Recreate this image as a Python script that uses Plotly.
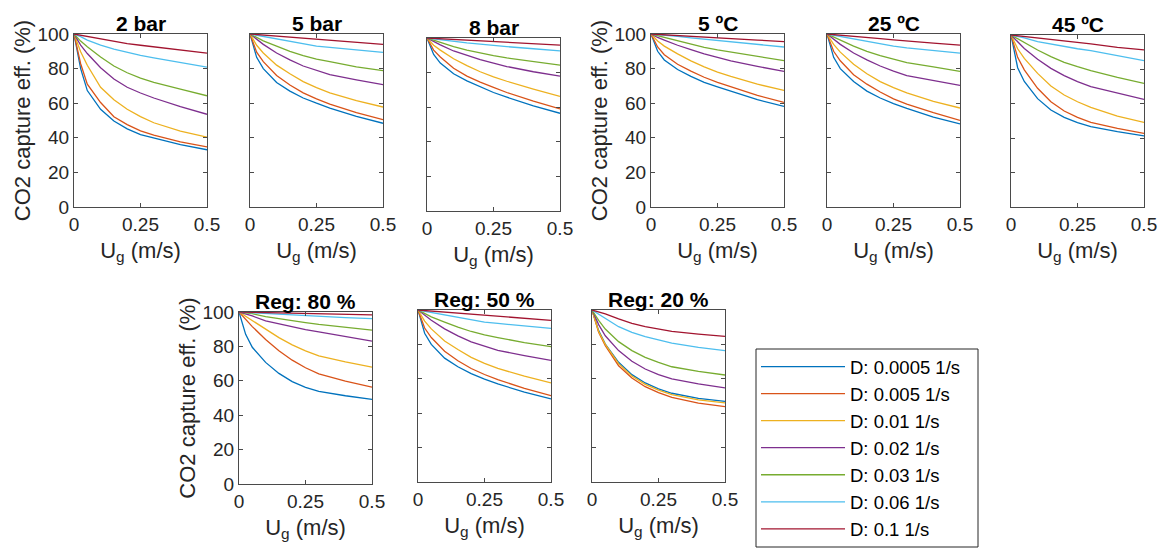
import plotly.graph_objects as go

W, H = 1161, 548

# ---------------- data ----------------
ug = [0, 0.025, 0.05, 0.1, 0.15, 0.2, 0.25, 0.3, 0.4, 0.5]

d_labels = ["D: 0.0005 1/s", "D: 0.005 1/s", "D: 0.01 1/s", "D: 0.02 1/s",
            "D: 0.03 1/s", "D: 0.06 1/s", "D: 0.1 1/s"]
colors = ["#0072BD", "#D95319", "#EDB120", "#7E2F8E", "#77AC30", "#4DBEEE", "#A2142F"]

# capture efficiency (%) per panel, one list per D value (same order as d_labels)
eff_2bar = [
    [100, 80.0, 67.3, 56.5, 49.7, 45.2, 41.9, 39.8, 36.0, 33.1],
    [100, 82.8, 71.0, 60.4, 52.2, 47.6, 44.0, 41.5, 37.6, 34.7],
    [100, 89.7, 81.9, 69.2, 62.0, 56.5, 52.2, 48.7, 43.9, 40.4],
    [100, 93.6, 88.7, 80.5, 74.0, 69.2, 65.9, 63.0, 58.0, 53.6],
    [100, 95.9, 92.6, 86.7, 81.5, 77.6, 74.5, 72.1, 68.2, 64.3],
    [100, 98.5, 96.5, 93.6, 91.2, 89.3, 87.7, 86.2, 83.4, 80.9],
    [100, 99.3, 98.5, 96.9, 95.7, 94.5, 93.5, 92.6, 90.6, 89.0],
]
eff_5bar = [
    [100, 86.5, 80.0, 72.0, 67.0, 63.0, 60.0, 57.2, 52.4, 48.4],
    [100, 89.5, 84.0, 76.0, 70.5, 66.0, 62.5, 59.5, 54.5, 50.5],
    [100, 93.5, 89.0, 82.0, 77.0, 72.5, 69.0, 66.0, 61.5, 57.8],
    [100, 96.8, 94.0, 89.0, 85.0, 81.5, 79.0, 76.5, 73.5, 70.7],
    [100, 98.0, 96.0, 93.0, 90.0, 87.5, 85.5, 84.0, 81.0, 78.8],
    [100, 99.3, 98.5, 97.0, 95.5, 94.5, 93.0, 92.3, 90.8, 89.4],
    [100, 99.7, 99.5, 98.5, 98.0, 97.5, 97.0, 96.3, 95.0, 94.0],
]
eff_8bar = [
    [100, 90.5, 85.5, 79.3, 75.2, 72.0, 68.5, 65.8, 60.7, 56.5],
    [100, 93.0, 89.0, 82.5, 78.0, 74.5, 71.5, 68.5, 63.5, 59.0],
    [100, 95.8, 93.0, 88.0, 84.0, 80.5, 77.5, 75.0, 70.5, 66.3],
    [100, 97.8, 96.0, 92.5, 90.0, 87.5, 85.5, 83.5, 80.5, 78.0],
    [100, 98.7, 97.5, 95.0, 93.0, 91.3, 89.8, 88.5, 86.3, 84.3],
    [100, 99.5, 99.0, 98.0, 97.2, 96.5, 95.7, 95.0, 93.8, 92.6],
    [100, 99.8, 99.6, 99.0, 98.6, 98.2, 97.8, 97.5, 96.7, 95.9],
]
eff_5C = [
    [100, 90.0, 85.0, 79.5, 75.5, 72.0, 69.5, 67.0, 62.0, 58.2],
    [100, 92.5, 88.0, 82.5, 78.5, 75.0, 72.0, 69.5, 64.5, 60.5],
    [100, 96.0, 93.0, 88.5, 84.5, 81.0, 78.0, 75.5, 71.0, 67.4],
    [100, 98.0, 96.5, 93.5, 91.0, 88.5, 86.5, 84.5, 81.3, 78.4],
    [100, 99.0, 98.0, 96.0, 94.0, 92.3, 90.8, 89.5, 87.0, 84.6],
    [100, 99.7, 99.5, 98.7, 97.8, 97.0, 96.2, 95.5, 94.0, 92.5],
    [100, 99.8, 99.7, 99.2, 98.8, 98.3, 97.8, 97.4, 96.5, 95.6],
]
eff_25C = [
    [100, 86.5, 80.0, 72.5, 67.0, 63.0, 59.8, 57.0, 52.0, 48.0],
    [100, 90.0, 84.5, 76.5, 71.0, 66.5, 62.5, 59.5, 54.5, 50.1],
    [100, 94.0, 89.5, 82.5, 77.0, 72.5, 69.0, 66.0, 61.0, 57.2],
    [100, 96.8, 94.0, 89.0, 85.0, 81.5, 78.5, 76.0, 73.0, 70.3],
    [100, 98.2, 96.5, 93.0, 90.0, 87.5, 85.5, 83.5, 81.0, 78.4],
    [100, 99.3, 98.5, 97.0, 95.5, 94.3, 93.0, 92.0, 90.5, 89.0],
    [100, 99.7, 99.5, 98.7, 98.0, 97.3, 96.6, 95.9, 94.7, 93.6],
]
eff_45C = [
    [100, 81.0, 73.0, 63.0, 56.4, 52.1, 49.0, 46.7, 43.8, 41.3],
    [100, 87.0, 79.7, 69.0, 61.2, 55.8, 52.1, 49.2, 45.7, 42.8],
    [100, 92.0, 86.4, 77.7, 70.3, 65.1, 61.2, 57.9, 52.9, 49.2],
    [100, 96.0, 92.2, 85.9, 80.6, 76.4, 72.9, 70.0, 66.1, 62.6],
    [100, 97.8, 95.5, 91.3, 87.4, 84.1, 81.6, 79.3, 75.4, 71.9],
    [100, 99.2, 98.3, 96.1, 94.6, 93.2, 92.0, 90.9, 88.0, 85.1],
    [100, 99.6, 99.2, 98.4, 97.4, 96.5, 95.6, 94.8, 92.8, 91.3],
]
eff_reg80 = [
    [100, 87.0, 79.5, 70.7, 64.3, 59.5, 56.2, 53.9, 51.3, 49.2],
    [100, 95.5, 91.5, 84.0, 77.5, 72.0, 67.6, 64.0, 59.8, 56.3],
    [100, 97.5, 95.0, 90.0, 85.1, 80.9, 77.4, 74.5, 71.0, 68.0],
    [100, 98.8, 97.7, 94.8, 93.0, 91.5, 89.8, 88.4, 85.7, 83.1],
    [100, 99.5, 99.0, 97.3, 96.0, 94.8, 93.8, 92.8, 91.3, 89.5],
    [100, 99.8, 99.6, 99.0, 98.5, 98.0, 97.6, 97.3, 96.7, 96.1],
    [100, 99.9, 99.8, 99.7, 99.5, 99.3, 99.1, 99.0, 98.7, 98.3],
]
eff_reg50 = [
    [100, 86.5, 80.0, 72.0, 67.0, 63.0, 59.8, 57.0, 52.3, 48.3],
    [100, 89.5, 84.0, 76.0, 70.5, 66.0, 62.5, 59.5, 54.5, 50.2],
    [100, 93.5, 89.0, 82.0, 77.0, 72.5, 69.0, 66.0, 61.5, 57.6],
    [100, 96.8, 94.0, 89.0, 85.0, 81.5, 79.0, 76.5, 73.5, 70.7],
    [100, 98.0, 96.0, 93.0, 90.0, 87.5, 85.5, 84.0, 81.0, 78.7],
    [100, 99.3, 98.5, 97.0, 95.5, 94.3, 93.0, 92.2, 90.7, 89.3],
    [100, 99.7, 99.5, 98.5, 98.0, 97.5, 97.0, 96.3, 95.0, 94.0],
]
eff_reg20 = [
    [100, 88.0, 80.2, 69.6, 62.4, 57.6, 54.1, 51.6, 48.6, 46.9],
    [100, 87.0, 79.3, 67.6, 60.5, 55.4, 52.0, 49.2, 45.9, 43.8],
    [100, 87.5, 80.0, 68.8, 61.6, 56.8, 53.4, 50.8, 47.8, 46.0],
    [100, 91.5, 85.0, 76.4, 70.2, 65.7, 62.4, 59.9, 57.0, 54.7],
    [100, 94.0, 88.9, 81.6, 76.4, 72.5, 69.6, 67.0, 64.3, 62.2],
    [100, 97.5, 94.8, 90.3, 87.0, 84.5, 82.6, 80.8, 78.3, 76.4],
    [100, 99.0, 97.7, 94.8, 92.2, 90.3, 88.8, 87.6, 86.0, 84.7],
]

titles = ["2 bar", "5 bar", "8 bar", "5 ºC", "25 ºC", "45 ºC",
          "Reg: 80 %", "Reg: 50 %", "Reg: 20 %"]
panel_data = [eff_2bar, eff_5bar, eff_8bar, eff_5C, eff_25C, eff_45C,
              eff_reg80, eff_reg50, eff_reg20]

x_tickvals = [0, 0.25, 0.5]
x_ticktext = ["0", "0.25", "0.5"]
y_tickvals = [0, 20, 40, 60, 80, 100]

# ---------------- layout (pixel boxes: left, right, top, bottom, show y labels) ----------------
boxes = [
    (74, 207, 34, 207, True),
    (250, 383, 34, 207, False),
    (427, 560, 38, 211, False),
    (651, 784, 34, 207, True),
    (827, 960, 34, 207, False),
    (1011, 1144, 35, 207, False),
    (239, 372, 312, 484, True),
    (418, 551, 310, 482, False),
    (592, 725, 310, 482, False),
]
legend_box = (756, 978, 349, 547)

FONT = "Liberation Sans, Arial, Helvetica, sans-serif"
AXC = "#262626"
LINEC = "#4a4a4a"

fig = go.Figure()
annotations = []
layout = dict(
    template="none",
    width=W, height=H,
    margin=dict(l=0, r=0, t=0, b=0),
    paper_bgcolor="white", plot_bgcolor="white",
    font=dict(family=FONT, color=AXC),
    showlegend=True,
)

for i, (title, data, box) in enumerate(zip(titles, panel_data, boxes)):
    n = i + 1
    l, r, t, b, showy = box
    xa = "x" if n == 1 else f"x{n}"
    ya = "y" if n == 1 else f"y{n}"
    for k, series in enumerate(data):
        fig.add_trace(go.Scatter(
            x=ug, y=series, mode="lines", xaxis=xa, yaxis=ya,
            line=dict(color=colors[k], width=1.3),
            name=d_labels[k], showlegend=(n == 1),
            hoverinfo="skip",
        ))
    common = dict(showline=True, linecolor=LINEC, linewidth=1, mirror="ticks",
                  ticks="inside", ticklen=4, tickcolor=LINEC, tickwidth=1,
                  showgrid=False, zeroline=False, automargin=False,
                  tickfont=dict(family=FONT, size=19, color=AXC))
    layout["xaxis" if n == 1 else f"xaxis{n}"] = dict(
        common, domain=[l / W, r / W], anchor=ya, range=[0, 0.5],
        tickvals=x_tickvals, ticktext=x_ticktext,
        title=dict(text="U<sub>g</sub> (m/s)", font=dict(family=FONT, size=22, color=AXC),
                   standoff=8),
    )
    ydict = dict(
        common, domain=[1 - b / H, 1 - t / H], anchor=xa, range=[0, 100],
        tickvals=y_tickvals, showticklabels=showy,
    )
    if showy:
        ydict["title"] = dict(text="CO2 capture eff. (%)",
                              font=dict(family=FONT, size=22, color=AXC), standoff=0)
    layout["yaxis" if n == 1 else f"yaxis{n}"] = ydict
    annotations.append(dict(
        text=f"<b>{title}</b>", xref="paper", yref="paper",
        x=(l + r) / 2 / W, y=1 - t / H, xanchor="center", yanchor="bottom",
        yshift=-3, showarrow=False, font=dict(family=FONT, size=21, color="black"),
    ))

layout["annotations"] = annotations
lx0, lx1, ly0, ly1 = legend_box
layout["shapes"] = [dict(
    type="rect", xref="paper", yref="paper",
    x0=lx0 / W, x1=lx1 / W, y0=1 - ly1 / H, y1=1 - ly0 / H,
    line=dict(color=AXC, width=1), fillcolor="rgba(0,0,0,0)", layer="above",
)]
layout["legend"] = dict(
    x=lx0 / W, y=0, xanchor="left", yanchor="bottom",
    borderwidth=0, bgcolor="rgba(0,0,0,0)",
    font=dict(family=FONT, size=18.5, color="black"),
    itemwidth=84, tracegroupgap=0,
    entrywidth=122, entrywidthmode="pixels",
)
fig.update_layout(**layout)
fig.write_html("out.html",
               config={"displayModeBar": False, "staticPlot": True},
               post_script="document.body.style.margin='0';document.body.style.overflow='hidden';")
